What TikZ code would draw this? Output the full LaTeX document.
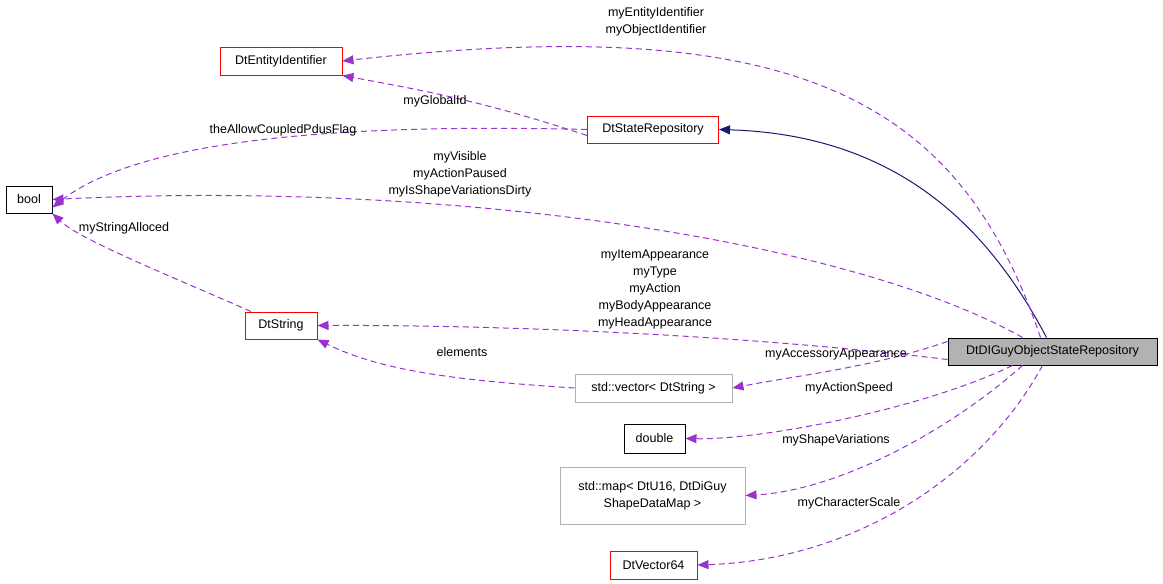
\documentclass[tikz,border=0pt]{standalone}
\usepackage{fontspec}
\setmainfont{Liberation Sans}
\usetikzlibrary{arrows.meta}
\definecolor{dep}{HTML}{9A32CD}
\definecolor{inh}{HTML}{191970}
\begin{document}
\begin{tikzpicture}[x=1pt,y=-1pt,
  box/.style={draw,rectangle,inner sep=0pt,line width=1pt,font=\fontsize{12.5}{17}\selectfont,align=center},
  red/.style={box,draw=red},
  gray/.style={box,draw=black!30},
  blk/.style={box,draw=black},
  dep/.style={draw=dep,line width=1pt,dash pattern=on 6pt off 4pt,-{Triangle[length=11pt,width=9pt,fill=dep]}},
  inh/.style={draw=inh,line width=1pt,-{Triangle[length=11pt,width=9pt,fill=inh]}},
  lab/.style={font=\fontsize{12.5}{17}\selectfont,align=center,inner sep=0pt}]
\useasboundingbox (0,0) rectangle (1163,584);
\node[red,minimum width=122pt,minimum height=28pt] (ent) at (281,61) {DtEntityIdentifier};
\node[red,minimum width=131pt,minimum height=27pt] (sr) at (653,129.5) {DtStateRepository};
\node[blk,minimum width=46pt,minimum height=27pt] (bool) at (29,199.5) {bool};
\node[red,minimum width=72pt,minimum height=27pt] (str) at (281,325.5) {DtString};
\node[box,fill=black!30,draw=black,minimum width=209pt,minimum height=27pt] (main) at (1052.5,351.5) {DtDIGuyObjectStateRepository};
\node[gray,minimum width=157pt,minimum height=28pt] (vec) at (653.5,388) {std::vector< DtString >};
\node[blk,minimum width=61pt,minimum height=29pt] (dbl) at (654.5,438.5) {double};
\node[gray,minimum width=185pt,minimum height=57pt] (map) at (652.5,495.5) {std::map< DtU16, DtDiGuy\\ShapeDataMap >};
\node[red,minimum width=87pt,minimum height=28pt] (v64) at (653.5,565) {DtVector64};

\draw[inh] ([xshift=-6pt]main.north) .. controls (990,230) and (900,135) .. (sr.east);
\draw[dep] ([xshift=-12pt]main.north) .. controls (960,100) and (800,10) .. (ent.east);
\draw[dep] ([yshift=-6pt]sr.west) .. controls (480,100) and (420,90) .. (ent.south east);
\draw[dep] (sr.west) .. controls (400,125) and (150,130) .. ([yshift=-8pt]bool.east);
\draw[dep] ([xshift=-30pt]main.north) .. controls (850,240) and (450,180) .. (bool.east);
\draw[dep] ([xshift=-30pt]str.north) .. controls (180,280) and (80,240) .. (bool.south east);
\draw[dep] ([yshift=-8pt]main.west) .. controls (700,330) and (450,325) .. (str.east);
\draw[dep] (vec.west) .. controls (450,380) and (380,370) .. (str.south east);
\draw[dep] ([yshift=10pt]main.west) .. controls (870,368) and (800,375) .. (vec.east);
\draw[dep] ([xshift=-40pt]main.south) .. controls (920,410) and (760,440) .. (dbl.east);
\draw[dep] ([xshift=-30pt]main.south) .. controls (950,430) and (840,490) .. (map.east);
\draw[dep] ([xshift=-10pt]main.south) .. controls (980,480) and (850,560) .. (v64.east);

\node[lab] (l1) at (656,22) {myEntityIdentifier\\myObjectIdentifier};
\node[lab] (l2) at (435,101) {myGlobalId};
\node[lab] (l3) at (283,130) {theAllowCoupledPdusFlag};
\node[lab] (l4) at (460,174) {myVisible\\myActionPaused\\myIsShapeVariationsDirty};
\node[lab] (l5) at (124,228) {myStringAlloced};
\node[lab] (l6) at (655,289) {myItemAppearance\\myType\\myAction\\myBodyAppearance\\myHeadAppearance};
\node[lab] (l7) at (462,352) {elements};
\node[lab] (l8) at (836,354) {myAccessoryAppearance};
\node[lab] (l9) at (849,388) {myActionSpeed};
\node[lab] (l10) at (836,440) {myShapeVariations};
\node[lab] (l11) at (849,503) {myCharacterScale};
\end{tikzpicture}
\end{document}
